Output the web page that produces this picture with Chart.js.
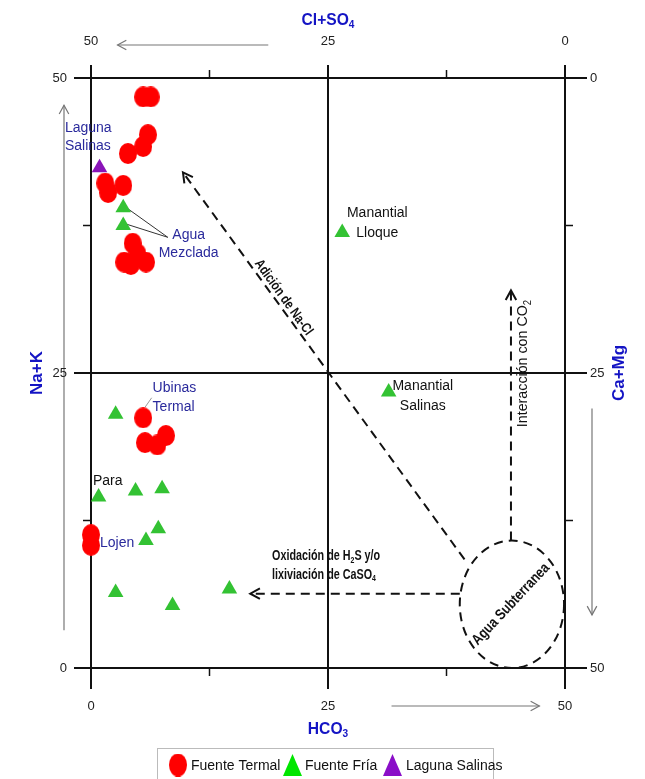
<!DOCTYPE html>
<html>
<head>
<meta charset="utf-8">
<script src="https://cdn.jsdelivr.net/npm/chart.js@4"></script>
<style>
  body { margin: 0; background: #fff; }
  canvas { display: block; }
</style>
</head>
<body>
<canvas id="grafico" width="645" height="779"></canvas>
<script>
// Fuente Termal (círculos rojos)
const termalX = [5.5, 6.3, 6.0, 5.5, 3.9, 1.5, 1.8, 3.4, 4.4, 3.5, 4.9, 5.8, 4.2, 5.5, 5.7, 7.0, 7.9, 0.0, 0.0];
const termalY = [48.4, 48.4, 45.2, 44.2, 43.6, 41.1, 40.3, 40.9, 36.0, 34.4, 35.1, 34.4, 34.2, 21.2, 19.1, 18.9, 19.7, 11.3, 10.4];
// Fuente Fría (triángulos verdes)
const friaX = [3.4, 3.4, 26.5, 31.4, 2.6, 0.8, 4.7, 7.5, 7.1, 5.8, 2.6, 14.6, 8.6];
const friaY = [39.0, 37.5, 36.9, 23.4, 21.5, 14.5, 15.0, 15.2, 11.8, 10.8, 6.4, 6.7, 5.3];
// Laguna Salinas (triángulo morado)
const lagunaX = [0.9];
const lagunaY = [42.4];

// marcas de los ejes
const tickPos = [0, 25, 50];
const minorPos = [12.5, 37.5];
const ticksHCO3 = ["0", "25", "50"];
const ticksClSO4 = ["50", "25", "0"];
const ticksNaK = ["0", "25", "50"];
const ticksCaMg = ["50", "25", "0"];

const fArial = '"Liberation Sans", Arial, sans-serif';
const azul = '#2a2a9c';
const azulTitulo = '#1414c4';

// imagen de elipse roja para Fuente Termal
function elipse(w, h, color) {
  const c = document.createElement('canvas');
  c.width = w; c.height = h;
  const g = c.getContext('2d');
  g.fillStyle = color;
  g.beginPath();
  g.ellipse(w / 2, h / 2, w / 2, h / 2, 0, 0, Math.PI * 2);
  g.fill();
  return c;
}
const puntoTermal = elipse(18, 21, '#ff0000');

function linea(ctx, x1, y1, x2, y2) {
  ctx.beginPath(); ctx.moveTo(x1, y1); ctx.lineTo(x2, y2); ctx.stroke();
}

// flecha abierta (punta en x2,y2)
function flecha(ctx, x1, y1, x2, y2, largo) {
  linea(ctx, x1, y1, x2, y2);
  const ang = Math.atan2(y2 - y1, x2 - x1);
  ctx.save();
  ctx.setLineDash([]);
  ctx.beginPath();
  ctx.moveTo(x2 - largo * Math.cos(ang - 0.5), y2 - largo * Math.sin(ang - 0.5));
  ctx.lineTo(x2, y2);
  ctx.lineTo(x2 - largo * Math.cos(ang + 0.5), y2 - largo * Math.sin(ang + 0.5));
  ctx.stroke();
  ctx.restore();
}

// texto con subíndices: partes = [[texto, esSub], ...]; ancho = factor de condensado
function textoSub(ctx, partes, x, y, size, peso, align, ancho) {
  ancho = ancho || 1;
  const fN = peso + ' ' + size + 'px ' + fArial;
  const fS = peso + ' ' + Math.round(size * 0.65) + 'px ' + fArial;
  let total = 0;
  partes.forEach(p => { ctx.font = p[1] ? fS : fN; total += ctx.measureText(p[0]).width; });
  let cx = align === 'center' ? -total / 2 : (align === 'right' ? -total : 0);
  ctx.save();
  ctx.translate(x, y);
  ctx.scale(ancho, 1);
  ctx.textAlign = 'left';
  ctx.textBaseline = 'middle';
  partes.forEach(p => {
    ctx.font = p[1] ? fS : fN;
    ctx.fillText(p[0], cx, p[1] ? size * 0.3 : 0);
    cx += ctx.measureText(p[0]).width;
  });
  ctx.restore();
}

function lineasTexto(ctx, lineas, x, y, salto, align) {
  ctx.textAlign = align;
  ctx.textBaseline = 'middle';
  const y0 = y - (lineas.length - 1) * salto / 2;
  lineas.forEach((t, i) => ctx.fillText(t, x, y0 + i * salto));
}

const dibujo = {
  id: 'dibujo',
  beforeDatasetsDraw(chart) {
    const { ctx, chartArea: a, scales: { x, y } } = chart;
    const px = v => x.getPixelForValue(v), py = v => y.getPixelForValue(v);
    ctx.save();

    // líneas principales (0, 25, 50)
    ctx.strokeStyle = '#111';
    ctx.lineWidth = 2;
    tickPos.forEach(v => {
      linea(ctx, a.left - 17, py(v), a.right + 22, py(v));
      linea(ctx, px(v), a.top - 13, px(v), a.bottom + 21);
    });
    // marcas menores
    ctx.lineWidth = 1.5;
    minorPos.forEach(v => {
      linea(ctx, px(v), a.top, px(v), a.top - 8);
      linea(ctx, px(v), a.bottom, px(v), a.bottom + 8);
      linea(ctx, a.left, py(v), a.left - 8, py(v));
      linea(ctx, a.right, py(v), a.right + 8, py(v));
    });

    // flechas grises de dirección de ejes
    ctx.strokeStyle = '#777';
    ctx.lineWidth = 1.2;
    flecha(ctx, px(18.7), a.top - 33, px(2.8), a.top - 33, 10);
    flecha(ctx, px(31.7), a.bottom + 38, px(47.3), a.bottom + 38, 10);
    flecha(ctx, a.left - 27, py(3.2), a.left - 27, py(47.7), 10);
    flecha(ctx, a.right + 27, py(22), a.right + 27, py(4.5), 10);

    // líneas guía de "Agua Mezclada" y "Ubinas Termal"
    ctx.strokeStyle = '#333';
    ctx.lineWidth = 1;
    linea(ctx, px(3.4), py(39.2), px(8.1), py(36.5));
    linea(ctx, px(3.4), py(37.7), px(8.1), py(36.5));
    ctx.strokeStyle = '#999';
    linea(ctx, px(5.7), py(22.1), px(6.4), py(22.9));

    // procesos (líneas discontinuas)
    ctx.strokeStyle = '#111';
    ctx.lineWidth = 2;
    ctx.setLineDash([9, 6]);
    flecha(ctx, px(39.4), py(9.2), px(9.7), py(42.0), 11);
    flecha(ctx, px(38.9), py(6.3), px(16.8), py(6.3), 11);
    flecha(ctx, px(44.3), py(10.8), px(44.3), py(32.0), 11);
    ctx.beginPath();
    ctx.ellipse(px(44.4), py(5.4), px(5.5) - px(0), py(0) - py(5.4), 0, 0, Math.PI * 2);
    ctx.stroke();
    ctx.setLineDash([]);
    ctx.restore();
  },
  afterDatasetsDraw(chart) {
    const { ctx, chartArea: a, scales: { x, y } } = chart;
    const px = v => x.getPixelForValue(v), py = v => y.getPixelForValue(v);
    ctx.save();

    // etiquetas de los ejes
    ctx.fillStyle = '#222';
    ctx.font = '13px ' + fArial;
    ctx.textBaseline = 'middle';
    tickPos.forEach((v, i) => {
      ctx.textAlign = 'center';
      ctx.fillText(ticksHCO3[i], px(v), a.bottom + 38);
      ctx.fillText(ticksClSO4[i], px(v), a.top - 37);
      ctx.textAlign = 'right';
      ctx.fillText(ticksNaK[i], a.left - 24, py(v));
      ctx.textAlign = 'left';
      ctx.fillText(ticksCaMg[i], a.right + 25, py(v));
    });

    // títulos de los ejes
    ctx.fillStyle = azulTitulo;
    textoSub(ctx, [['Cl+SO', 0], ['4', 1]], px(25), 20, 17, 'bold', 'center', 0.92);
    textoSub(ctx, [['HCO', 0], ['3', 1]], px(25), 729, 17, 'bold', 'center', 0.92);
    ctx.font = 'bold 17px ' + fArial;
    ctx.textAlign = 'center';
    ctx.save(); ctx.translate(37, py(25)); ctx.rotate(-Math.PI / 2); ctx.fillText('Na+K', 0, 0); ctx.restore();
    ctx.save(); ctx.translate(619, py(25)); ctx.rotate(-Math.PI / 2); ctx.fillText('Ca+Mg', 0, 0); ctx.restore();

    // nombres de muestras
    ctx.font = '14px ' + fArial;
    ctx.fillStyle = azul;
    lineasTexto(ctx, ['Laguna', 'Salinas'], px(-2.75), py(45.0), 18, 'left');
    lineasTexto(ctx, ['Agua', 'Mezclada'], px(10.3), py(35.9), 18, 'center');
    lineasTexto(ctx, ['Ubinas', 'Termal'], px(6.5), py(22.9), 19, 'left');
    lineasTexto(ctx, ['Lojen'], px(0.95), py(10.6), 18, 'left');
    ctx.fillStyle = '#111';
    lineasTexto(ctx, ['Para'], px(0.2), py(15.85), 18, 'left');
    lineasTexto(ctx, ['Manantial', 'Lloque'], px(30.2), py(37.7), 20, 'center');
    lineasTexto(ctx, ['Manantial', 'Salinas'], px(35.0), py(23.0), 20, 'center');

    // textos de procesos
    ctx.fillStyle = '#111';
    textoSub(ctx, [['Oxidación de H', 0], ['2', 1], ['S y/o', 0]], px(19.1), py(9.5), 14, 'bold', 'left', 0.77);
    textoSub(ctx, [['lixiviación de CaSO', 0], ['4', 1]], px(19.1), py(7.9), 14, 'bold', 'left', 0.77);

    ctx.save();
    ctx.translate(px(20.3), py(31.4));
    ctx.rotate(Math.atan2(388, 279));
    textoSub(ctx, [['Adición de Na-Cl', 0]], 0, 0, 14, 'bold', 'center', 0.8);
    ctx.restore();

    ctx.save();
    ctx.translate(px(45.6), py(25.8));
    ctx.rotate(-Math.PI / 2);
    textoSub(ctx, [['Interacción con CO', 0], ['2', 1]], 0, 0, 15, 'normal', 'center', 0.95);
    ctx.restore();

    ctx.save();
    ctx.translate(px(44.3), py(5.4));
    ctx.rotate(-0.82);
    textoSub(ctx, [['Agua Subterranea', 0]], 0, 0, 15, 'bold', 'center', 0.82);
    ctx.restore();

    // leyenda
    ctx.strokeStyle = '#bbb';
    ctx.lineWidth = 1;
    ctx.strokeRect(157.5, 748.5, 336, 40);
    const ly = 765;
    ctx.drawImage(elipse(18, 23, '#ff0000'), 169, ly - 11.5);
    ctx.fillStyle = '#00e600';
    ctx.beginPath(); ctx.moveTo(292.5, ly - 11); ctx.lineTo(302, ly + 11); ctx.lineTo(283, ly + 11); ctx.closePath(); ctx.fill();
    ctx.fillStyle = '#8a0ec8';
    ctx.beginPath(); ctx.moveTo(392.5, ly - 11); ctx.lineTo(402, ly + 11); ctx.lineTo(383, ly + 11); ctx.closePath(); ctx.fill();
    ctx.fillStyle = '#111';
    ctx.font = '14px ' + fArial;
    ctx.textAlign = 'left';
    ctx.textBaseline = 'middle';
    ctx.fillText('Fuente Termal', 191, ly + 1);
    ctx.fillText('Fuente Fría', 305, ly + 1);
    ctx.fillText('Laguna Salinas', 406, ly + 1);
    ctx.restore();
  }
};

const grafico = new Chart(document.getElementById('grafico'), {
  type: 'scatter',
  data: {
    datasets: [
      {
        label: 'Fuente Termal',
        data: termalX.map((v, i) => ({ x: v, y: termalY[i] })),
        pointStyle: puntoTermal,
        pointRadius: 10,
        backgroundColor: '#ff0000',
        clip: false
      },
      {
        label: 'Fuente Fría',
        data: friaX.map((v, i) => ({ x: v, y: friaY[i] })),
        pointStyle: 'triangle',
        pointRadius: 9,
        borderWidth: 0,
        backgroundColor: '#33c233',
        clip: false
      },
      {
        label: 'Laguna Salinas',
        data: lagunaX.map((v, i) => ({ x: v, y: lagunaY[i] })),
        pointStyle: 'triangle',
        pointRadius: 9,
        borderWidth: 0,
        backgroundColor: '#8a14b8',
        clip: false
      }
    ]
  },
  options: {
    responsive: false,
    animation: false,
    devicePixelRatio: 1,
    layout: { padding: { left: 91, right: 80, top: 78, bottom: 111 } },
    scales: {
      x: { type: 'linear', min: 0, max: 50, display: false },
      y: { type: 'linear', min: 0, max: 50, display: false }
    },
    plugins: {
      legend: { display: false },
      tooltip: { enabled: false }
    }
  },
  plugins: [dibujo]
});
</script>
</body>
</html>
